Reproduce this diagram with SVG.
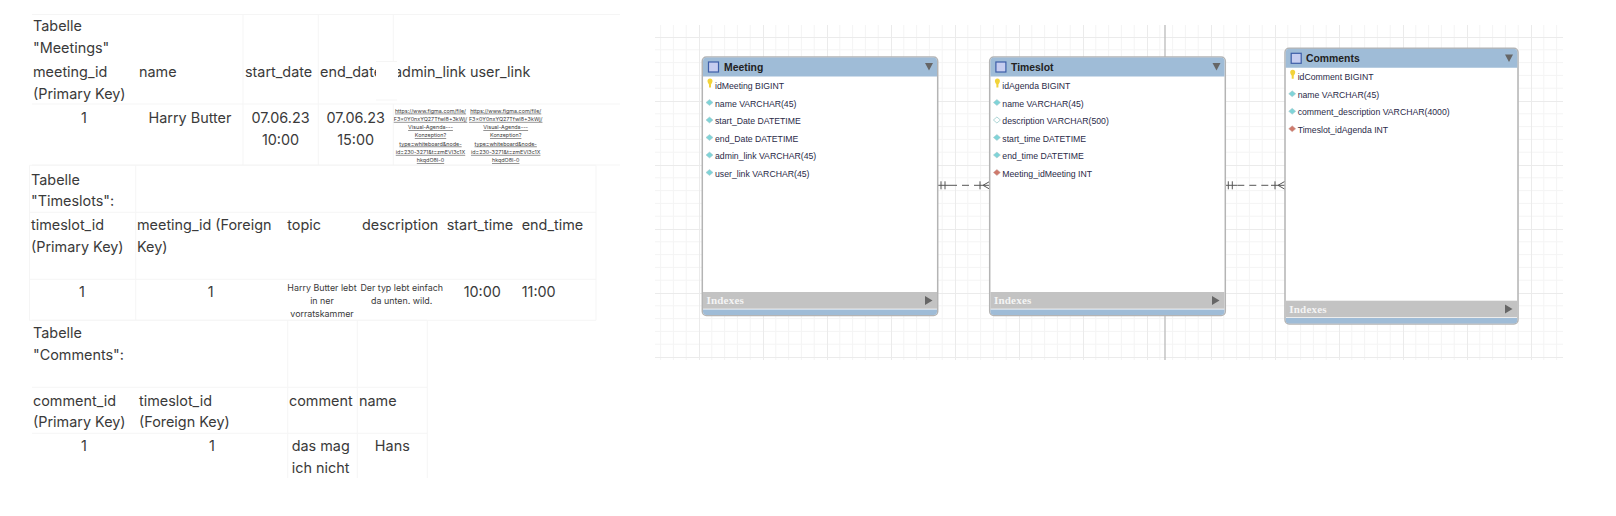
<svg xmlns="http://www.w3.org/2000/svg" width="1616" height="516" viewBox="0 0 1616 516">
<style>
text{font-family:"Inter","Liberation Sans",sans-serif;fill:#3a3a3a}
.t{font-size:14.4px}
.c{font-size:14.4px;text-anchor:middle}
.s{font-size:8.9px;text-anchor:middle}
.l{font-size:5.4px;text-anchor:middle;text-decoration:underline}
.g{stroke:#f5f5f5;stroke-width:1;fill:none}
.box{fill:#fff;stroke:#b4b4b4;stroke-width:1.5}
.hd{fill:#9fbcd7}
.ix{fill:#c3c3c3}
.ttl{font-family:"Liberation Sans",sans-serif;font-weight:bold;font-size:10.4px;fill:#222}
.r{font-family:"Liberation Sans",sans-serif;font-size:8.7px;fill:#2a2a48}
.ixt{font-family:"Liberation Serif",serif;font-weight:bold;font-size:11px;fill:#f4f4f4;letter-spacing:.2px}
.tri{fill:#666}
.ico{fill:#c6cdf0;stroke:#3d5ea8;stroke-width:1.2}
.key{fill:#f2d33a}
.pk{fill:#7fd4d8;stroke:#a9c4c8;stroke-width:.5}
.op{fill:#fff;stroke:#9cc;stroke-width:.8}
.fk{fill:#cf7a6c;stroke:#c9a9a4;stroke-width:.5}
.cn{stroke:#555;stroke-width:1;fill:none}
</style>
<defs>
<pattern id="grid" patternUnits="userSpaceOnUse" x="635" y="37" width="64" height="64">
<path d="M12.8 0V64M25.6 0V64M38.4 0V64M51.2 0V64M0 12.8H64M0 25.6H64M0 38.4H64M0 51.2H64" stroke="#f4f4f4" stroke-width="1" fill="none"/>
<path d="M.5 0V64M0 .5H64" stroke="#ebebeb" stroke-width="1" fill="none"/>
</pattern>
<marker id="one" markerUnits="userSpaceOnUse" markerWidth="12" markerHeight="10" viewBox="0 0 12 10" refX="12" refY="5" orient="auto">
<path d="M0 5H12M3 1V9M7 1V9" stroke="#555" stroke-width="1" fill="none"/>
</marker>
<marker id="many" markerUnits="userSpaceOnUse" markerWidth="14" markerHeight="10" viewBox="0 0 14 10" refX="0" refY="5" orient="auto">
<path d="M0 5H14M4 1V9M7 5L14 1M7 5L14 9" stroke="#555" stroke-width="1" fill="none"/>
</marker>
</defs>

<g id="tables">
<g id="table-meetings">
<path class="g" d="M32 14.5H620M32 104H620M32 165H620M243 14.5V165M318.3 14.5V165M393.3 14.5V61.5M393.3 104V165"/>
<text class="t" x="33" y="31">Tabelle</text>
<text class="t" x="33" y="53">"Meetings"</text>
<text class="t" x="33" y="77">meeting_id</text>
<text class="t" x="33" y="98.5">(Primary Key)</text>
<text class="t" x="139" y="77">name</text>
<text class="t" x="245" y="77">start_date</text>
<text class="t" x="320" y="77">end_date</text>
<text class="t" x="394" y="77">admin_link</text>
<rect x="376" y="62" width="22" height="38" fill="#fff"/>
<path class="g" d="M376 61.5H397M376 100H397"/>
<text class="t" x="470" y="77">user_link</text>
<text class="c" x="84" y="122.5">1</text>
<text class="c" x="190" y="122.5">Harry Butter</text>
<text class="c" x="280.5" y="122.5">07.06.23</text>
<text class="c" x="280.5" y="144.5">10:00</text>
<text class="c" x="355.7" y="122.5">07.06.23</text>
<text class="c" x="355.7" y="144.5">15:00</text>
<g class="links">
<text class="l" x="430.5" y="112.7">https://www.figma.com/file/</text>
<text class="l" x="430.5" y="120.9">F3x0Y0nxYQ27TfwI8+3kWj/</text>
<text class="l" x="430.5" y="129.1">Visual-Agenda---</text>
<text class="l" x="430.5" y="137.3">Konzeption?</text>
<text class="l" x="430.5" y="145.6">type=whiteboard&amp;node-</text>
<text class="l" x="430.5" y="153.9">id=230-3271&amp;t=zmEVI3c1X</text>
<text class="l" x="430.5" y="162.1">hkqdO8I-0</text>
<text class="l" x="505.7" y="112.7">https://www.figma.com/file/</text>
<text class="l" x="505.7" y="120.9">F3x0Y0nxYQ27TfwI8+3kWj/</text>
<text class="l" x="505.7" y="129.1">Visual-Agenda---</text>
<text class="l" x="505.7" y="137.3">Konzeption?</text>
<text class="l" x="505.7" y="145.6">type=whiteboard&amp;node-</text>
<text class="l" x="505.7" y="153.9">id=230-3271&amp;t=zmEVI3c1X</text>
<text class="l" x="505.7" y="162.1">hkqdO8I-0</text>
</g>
</g>
<g id="table-timeslots">
<path class="g" d="M29.5 165.3H596M29.5 212.3H596M29.5 279.3H596M29.5 320.3H596M29.5 165.3V320.3M135.7 165.3V320.3M596 165.3V320.3"/>
<text class="t" x="31" y="184.5">Tabelle</text>
<text class="t" x="31" y="206">"Timeslots":</text>
<text class="t" x="31" y="230">timeslot_id</text>
<text class="t" x="31" y="251.5">(Primary Key)</text>
<text class="t" x="137" y="230">meeting_id (Foreign</text>
<text class="t" x="137" y="251.5">Key)</text>
<text class="t" x="287.3" y="230">topic</text>
<text class="t" x="362" y="230">description</text>
<text class="t" x="446.7" y="230">start_time</text>
<text class="t" x="521.7" y="230">end_time</text>
<text class="c" x="82" y="297">1</text>
<text class="c" x="210.7" y="297">1</text>
<text class="s" x="322" y="291">Harry Butter lebt</text>
<text class="s" x="322" y="304">in ner</text>
<text class="s" x="322" y="317">vorratskammer</text>
<text class="s" x="401.7" y="291">Der typ lebt einfach</text>
<text class="s" x="401.7" y="304">da unten. wild.</text>
<text class="c" x="482.3" y="297">10:00</text>
<text class="c" x="538.7" y="297">11:00</text>
</g>
<g id="table-comments">
<path class="g" d="M32 320.3H427.3M32 387.3H427.3M32 433.3H427.3M287.7 320.3V478M357.3 320.3V478M427.3 320.3V478"/>
<text class="t" x="33" y="338">Tabelle</text>
<text class="t" x="33" y="359.5">"Comments":</text>
<text class="t" x="33" y="405.5">comment_id</text>
<text class="t" x="33" y="427">(Primary Key)</text>
<text class="t" x="139" y="405.5">timeslot_id</text>
<text class="t" x="139" y="427">(Foreign Key)</text>
<text class="t" x="289" y="405.5">comment</text>
<text class="t" x="359" y="405.5">name</text>
<text class="c" x="84" y="451">1</text>
<text class="c" x="212" y="451">1</text>
<text class="c" x="320.7" y="451">das mag</text>
<text class="c" x="320.7" y="473">ich nicht</text>
<text class="c" x="392.3" y="451">Hans</text>
</g>
</g>

<g id="canvas">
<rect x="655" y="25" width="908" height="335" fill="url(#grid)"/>
<path d="M1165 25V360" stroke="#bbb" stroke-width="1.3"/>
</g>

<g id="connectors">
<path class="cn" d="M950 185.3H976" stroke-dasharray="7 5" marker-start="url(#one)" marker-end="url(#many)"/>
<path class="cn" d="M1237.3 185.3H1271" stroke-dasharray="7 5" marker-start="url(#one)" marker-end="url(#many)"/>
</g>

<g id="meeting">
<path class="box" d="M702.3 61a4 4 0 0 1 4-4H933.7a4 4 0 0 1 4 4V311.5a4 4 0 0 1-4 4H706.3a4 4 0 0 1-4-4Z"/>
<path class="hd" d="M703 76.5V61a3.5 3.5 0 0 1 3.5-3.5H933.5a3.5 3.5 0 0 1 3.5 3.5V76.5Z"/>
<rect class="ico" x="708.5" y="62" width="10" height="10"/>
<text class="ttl" x="724" y="71">Meeting</text>
<path class="tri" d="M925 63h8l-4 7.500Z"/>
<path class="key" d="M707.500 81a2.500 2.500 0 0 1 5 0c0 1.500-1 2.500-1.500 3.500v3h-2v-3c-.5-1-1.500-2-1.500-3.500Z"/>
<text class="r" x="715" y="89">idMeeting BIGINT</text>
<path class="pk" d="M709.500 99.500l3.500 3-3.500 3-3.500-3Z"/>
<text class="r" x="715" y="106.500">name VARCHAR(45)</text>
<path class="pk" d="M709.500 117l3.500 3-3.500 3-3.500-3Z"/>
<text class="r" x="715" y="124">start_Date DATETIME</text>
<path class="pk" d="M709.500 134.500l3.500 3-3.500 3-3.500-3Z"/>
<text class="r" x="715" y="141.500">end_Date DATETIME</text>
<path class="pk" d="M709.500 152l3.500 3-3.500 3-3.500-3Z"/>
<text class="r" x="715" y="159">admin_link VARCHAR(45)</text>
<path class="pk" d="M709.500 169.500l3.500 3-3.500 3-3.500-3Z"/>
<text class="r" x="715" y="176.500">user_link VARCHAR(45)</text>
<rect class="ix" x="703" y="292" width="234" height="16.700"/>
<text class="ixt" x="706.500" y="304">Indexes</text>
<path class="tri" d="M925 296l7.500 4.500-7.500 4.500Z"/>
<path class="hd" d="M703 309.500H937V311.500a3.500 3.500 0 0 1-3.500 3.500H706.500a3.500 3.500 0 0 1-3.500-3.500Z"/>
</g>

<g id="timeslot">
<path class="box" d="M989.700 61a4 4 0 0 1 4-4H1221.300a4 4 0 0 1 4 4V311.500a4 4 0 0 1-4 4H993.700a4 4 0 0 1-4-4Z"/>
<path class="hd" d="M990.400 76.500V61a3.500 3.500 0 0 1 3.500-3.500H1221a3.500 3.500 0 0 1 3.500 3.500V76.500Z"/>
<rect class="ico" x="995.900" y="62" width="10" height="10"/>
<text class="ttl" x="1011" y="71">Timeslot</text>
<path class="tri" d="M1212.500 63h8l-4 7.500Z"/>
<path class="key" d="M994.900 81a2.500 2.500 0 0 1 5 0c0 1.500-1 2.500-1.500 3.500v3h-2v-3c-.5-1-1.500-2-1.500-3.500Z"/>
<text class="r" x="1002.300" y="89">idAgenda BIGINT</text>
<path class="pk" d="M996.900 99.500l3.500 3-3.500 3-3.500-3Z"/>
<text class="r" x="1002.300" y="106.500">name VARCHAR(45)</text>
<path class="op" d="M996.900 117l3.500 3-3.500 3-3.500-3Z"/>
<text class="r" x="1002.300" y="124">description VARCHAR(500)</text>
<path class="pk" d="M996.900 134.500l3.500 3-3.500 3-3.500-3Z"/>
<text class="r" x="1002.300" y="141.500">start_time DATETIME</text>
<path class="pk" d="M996.900 152l3.500 3-3.500 3-3.500-3Z"/>
<text class="r" x="1002.300" y="159">end_time DATETIME</text>
<path class="fk" d="M996.900 169.500l3.500 3-3.500 3-3.500-3Z"/>
<text class="r" x="1002.300" y="176.500">Meeting_idMeeting INT</text>
<rect class="ix" x="990.400" y="292" width="234.100" height="16.700"/>
<text class="ixt" x="994" y="304">Indexes</text>
<path class="tri" d="M1212 296l7.500 4.500-7.500 4.500Z"/>
<path class="hd" d="M990.400 309.500H1224.500V311.500a3.500 3.500 0 0 1-3.500 3.500H993.900a3.500 3.500 0 0 1-3.500-3.500Z"/>
</g>

<g id="comments">
<path class="box" d="M1285 52.300a4 4 0 0 1 4-4H1514a4 4 0 0 1 4 4V320a4 4 0 0 1-4 4H1289a4 4 0 0 1-4-4Z"/>
<path class="hd" d="M1285.700 67.800V52.300a3.500 3.500 0 0 1 3.500-3.500H1513.800a3.500 3.500 0 0 1 3.500 3.500V67.800Z"/>
<rect class="ico" x="1291.200" y="53.300" width="10" height="10"/>
<text class="ttl" x="1306" y="62.300">Comments</text>
<path class="tri" d="M1505 54.500h8l-4 7.500Z"/>
<path class="key" d="M1290.200 72.300a2.500 2.500 0 0 1 5 0c0 1.500-1 2.500-1.500 3.500v3h-2v-3c-.5-1-1.500-2-1.500-3.500Z"/>
<text class="r" x="1297.700" y="80.300">idComment BIGINT</text>
<path class="pk" d="M1292.200 90.800l3.500 3-3.500 3-3.500-3Z"/>
<text class="r" x="1297.700" y="97.800">name VARCHAR(45)</text>
<path class="pk" d="M1292.200 108.300l3.500 3-3.500 3-3.500-3Z"/>
<text class="r" x="1297.700" y="115.300">comment_description VARCHAR(4000)</text>
<path class="fk" d="M1292.200 125.800l3.500 3-3.500 3-3.500-3Z"/>
<text class="r" x="1297.700" y="132.800">Timeslot_idAgenda INT</text>
<rect class="ix" x="1285.700" y="300.700" width="231.600" height="16.600"/>
<text class="ixt" x="1289.300" y="312.700">Indexes</text>
<path class="tri" d="M1505 304.500l7.500 4.500-7.500 4.500Z"/>
<path class="hd" d="M1285.700 318H1517.300V320a3.500 3.500 0 0 1-3.500 3.500H1289.200a3.500 3.500 0 0 1-3.500-3.500Z"/>
</g>
</svg>
